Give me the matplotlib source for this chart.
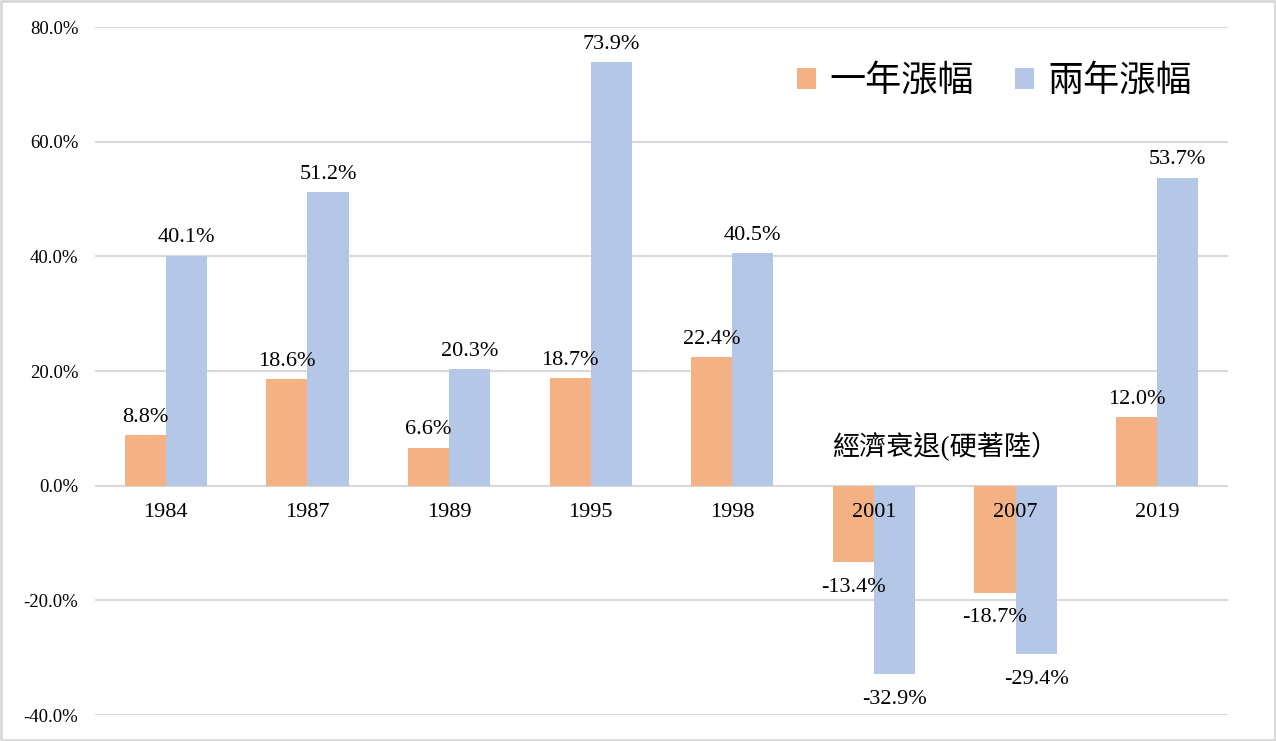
import matplotlib.pyplot as plt
import numpy as np
from matplotlib.patches import Rectangle

# 資料
years = ['1984', '1987', '1989', '1995', '1998', '2001', '2007', '2019']
one_year = [8.8, 18.6, 6.6, 18.7, 22.4, -13.4, -18.7, 12.0]
two_year = [40.1, 51.2, 20.3, 73.9, 40.5, -32.9, -29.4, 53.7]
series_names = ['一年漲幅', '兩年漲幅']
note_text = '經濟衰退(硬著陸）'

plt.rcParams['font.family'] = ['Liberation Serif', 'Noto Sans CJK TC']

fig = plt.figure(figsize=(12.76, 7.41), dpi=100)
ax = fig.add_axes([95 / 1276, 1 - 715 / 741, (1228 - 95) / 1276, (715 - 27) / 741])

x = np.arange(len(years))
w = 0.29
c1 = '#F4B183'
c2 = '#B4C7E7'
b1 = ax.bar(x - w / 2, one_year, w, color=c1, label=series_names[0], zorder=2)
b2 = ax.bar(x + w / 2, two_year, w, color=c2, label=series_names[1], zorder=2)

# 數據標籤
for bars, vals in [(b1, one_year), (b2, two_year)]:
    for rect, v in zip(bars, vals):
        cx = rect.get_x() + rect.get_width() / 2
        if v >= 0:
            ax.annotate(f'{v:.1f}%', (cx, v), xytext=(0, 6), textcoords='offset points',
                        ha='center', va='bottom', fontsize=16)
        else:
            ax.annotate(f'{v:.1f}%', (cx, v), xytext=(0, -11), textcoords='offset points',
                        ha='center', va='top', fontsize=16)

# 年份標籤（畫在柱子上面）
for xi, yr in zip(x, years):
    ax.annotate(yr, (xi, 0), xytext=(0, -19), textcoords='offset points',
                ha='center', va='center', fontsize=16, zorder=5)

ax.set_xlim(-0.5, len(years) - 0.5)
ax.set_ylim(-40, 80)
ax.set_yticks(np.arange(-40, 81, 20))
ax.set_yticklabels([f'{t:.1f}%' for t in np.arange(-40, 81, 20)])
ax.set_xticks([])
ax.tick_params(axis='y', length=0, pad=12, labelsize=13.5)

for s in ['top', 'right', 'left', 'bottom']:
    ax.spines[s].set_visible(False)
ax.yaxis.grid(True, color='#d9d9d9', linewidth=1.5, zorder=0)
ax.set_axisbelow(True)

ax.text(5.5, 6.8, note_text, ha='center', va='center', fontsize=19.5)

leg = ax.legend(loc='center right', bbox_to_anchor=(0.968, 0.92), ncol=2, frameon=False,
                fontsize=26, handlelength=0.53, handleheight=0.53, handletextpad=0.36,
                columnspacing=1.14, borderpad=0, borderaxespad=0)

# 外框
fig.patches.append(Rectangle((0.001, 0.001), 0.998, 0.997, transform=fig.transFigure,
                             fill=False, edgecolor='#d9d9d9', linewidth=2))

plt.savefig('out.png', dpi=100)
